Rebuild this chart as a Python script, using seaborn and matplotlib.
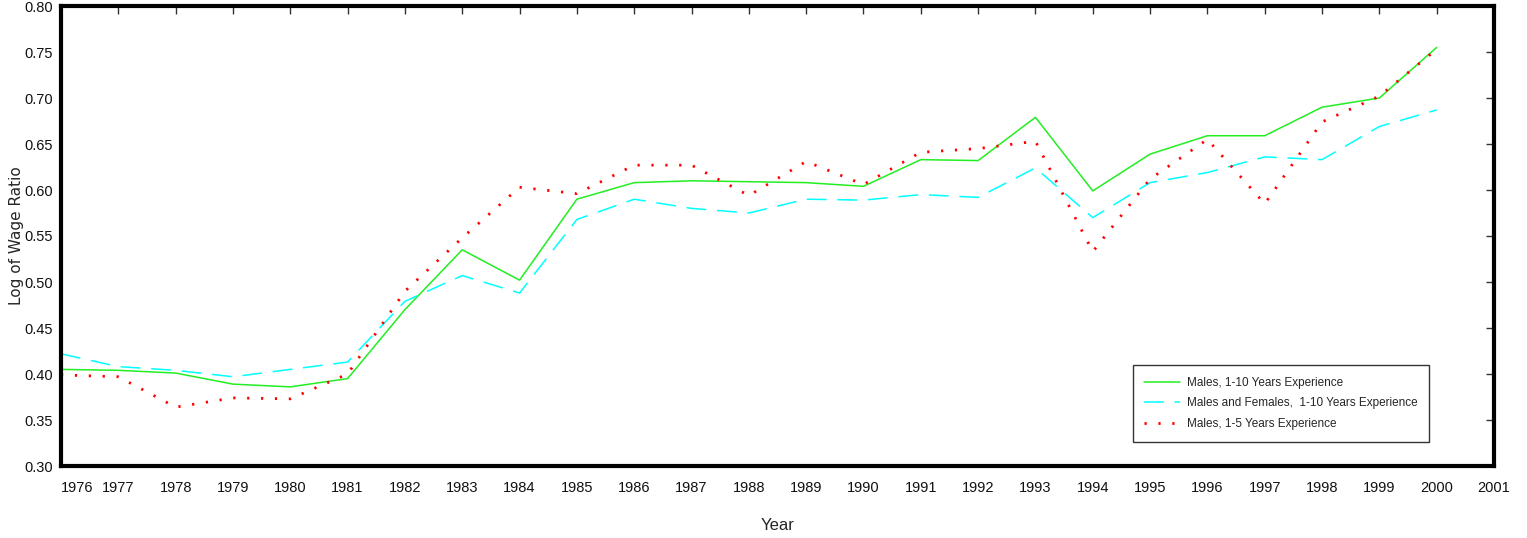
import numpy as np
import pandas as pd
import matplotlib
matplotlib.use("Agg")
import matplotlib.pyplot as plt
import seaborn as sns

# data
years = list(range(1976, 2001))
males_1_10 = [0.405, 0.404, 0.401, 0.389, 0.386, 0.395, 0.470, 0.535, 0.502, 0.590,
              0.608, 0.610, 0.609, 0.608, 0.604, 0.633, 0.632, 0.679, 0.599, 0.639,
              0.659, 0.659, 0.690, 0.700, 0.755]
both_1_10 = [0.422, 0.408, 0.404, 0.397, 0.405, 0.413, 0.479, 0.507, 0.488, 0.568,
             0.590, 0.580, 0.575, 0.590, 0.589, 0.595, 0.592, 0.624, 0.570, 0.608,
             0.619, 0.636, 0.633, 0.669, 0.687]
males_1_5 = [0.399, 0.397, 0.364, 0.374, 0.373, 0.400, 0.490, 0.548, 0.603, 0.596,
             0.627, 0.627, 0.594, 0.631, 0.606, 0.641, 0.645, 0.653, 0.533, 0.612,
             0.655, 0.585, 0.674, 0.702, 0.753]
labels = ["Males, 1-10 Years Experience",
          "Males and Females,  1-10 Years Experience",
          "Males, 1-5 Years Experience"]
x_ticks = list(range(1976, 2002))
y_ticks = [0.30, 0.35, 0.40, 0.45, 0.50, 0.55, 0.60, 0.65, 0.70, 0.75, 0.80]

sns.set_style("white")
plt.rcParams["font.family"] = ["Liberation Sans", "DejaVu Sans"]

fig = plt.figure(figsize=(15.27, 5.38), dpi=100)
ax = fig.add_axes([61 / 1527, 1 - 466 / 538, (1494 - 61) / 1527, (466 - 6) / 538])

df = pd.DataFrame({"year": years, labels[0]: males_1_10,
                   labels[1]: both_1_10, labels[2]: males_1_5})

sns.lineplot(data=df, x="year", y=labels[0], ax=ax, color="#22ee22",
             linewidth=1.1, label=labels[0])
sns.lineplot(data=df, x="year", y=labels[1], ax=ax, color="#00ffff",
             linewidth=1.1, linestyle=(0, (13, 7)), label=labels[1])
sns.lineplot(data=df, x="year", y=labels[2], ax=ax, color="#ff0000",
             linewidth=2.0, linestyle=(0, (0.8, 4.2)), label=labels[2])

ax.set_xlim(1976, 2001)
ax.set_ylim(0.30, 0.80)
ax.set_xticks(x_ticks)
ax.set_xticklabels([str(y) for y in x_ticks])
ax.set_yticks(y_ticks)
ax.set_yticklabels([f"{v:.2f}" for v in y_ticks])
ax.tick_params(axis="both", direction="in", length=6, width=1, color="#333333",
               top=True, right=True, labelsize=10.5, labelcolor="#111111")
ax.tick_params(axis="x", pad=11)
ax.tick_params(axis="y", pad=6)
ax.get_xticklabels()[0].set_horizontalalignment("left")

for sp in ax.spines.values():
    sp.set_linewidth(3)
    sp.set_color("black")

ax.set_xlabel("Year", fontsize=12, labelpad=16)
ax.set_ylabel("Log of Wage Ratio", fontsize=11, family=["DejaVu Sans"])
ax.yaxis.set_label_coords(-0.026, 0.5)

leg = ax.legend(loc="lower right", bbox_to_anchor=(0.959, 0.039),
                fontsize=8.5, frameon=True, fancybox=False, handlelength=3.0,
                borderpad=1.0, labelspacing=0.75, handletextpad=0.6)
leg.get_frame().set_edgecolor("black")
leg.get_frame().set_linewidth(1)

fig.savefig("out.png", dpi=100)
